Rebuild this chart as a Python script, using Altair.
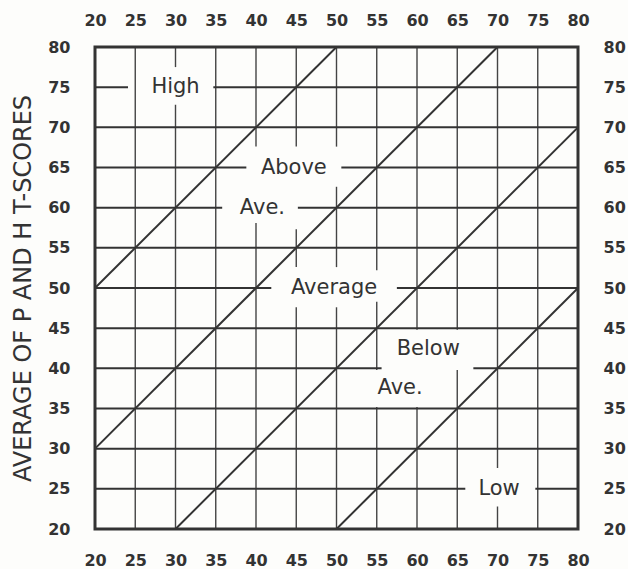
import altair as alt
import pandas as pd

tick_values = list(range(20, 85, 5))
y_title = "AVERAGE OF P AND H T-SCORES"

# region labels
label_text = ["High", "Above", "Ave.", "Average", "Below", "Ave.", "Low"]
label_x = [30.0, 44.7, 40.8, 49.7, 61.4, 57.9, 70.2]
label_y = [75.0, 65.0, 60.0, 50.0, 42.4, 37.6, 25.0]

# boundary diagonals
diag_x1 = [20, 20, 30, 50]
diag_y1 = [50, 30, 20, 20]
diag_x2 = [50, 70, 80, 80]
diag_y2 = [80, 80, 70, 50]

# gaps left in the grid lines around the labels
h_gaps = {
    75: [(24.1, 34.7)],
    65: [(38.8, 50.6)],
    60: [(35.8, 45.2)],
    50: [(41.9, 57.5)],
    40: [(55.6, 67.0)],
    25: [(66.0, 74.7)],
}
v_gaps = {
    30: [(72.8, 77.5)],
    40: [(58.1, 67.6)],
    45: [(47.6, 52.6), (57.3, 67.6)],
    50: [(47.6, 52.6), (62.6, 67.6)],
    55: [(35.2, 39.8), (48.3, 52.2)],
    60: [(35.2, 44.8)],
    65: [(39.8, 44.8)],
    70: [(22.8, 27.6)],
}

LO, HI = 20, 80
INK = "#333333"


def split(lo, hi, gaps):
    segs, s = [], lo
    for a, b in sorted(gaps):
        segs.append((s, a))
        s = b
    segs.append((s, hi))
    return segs


h_rows, v_rows = [], []
for v in tick_values[1:-1]:
    for a, b in split(LO, HI, h_gaps.get(v, [])):
        h_rows.append({"x": a, "x2": b, "y": v})
    for a, b in split(LO, HI, v_gaps.get(v, [])):
        v_rows.append({"x": v, "y": a, "y2": b})

h_df = pd.DataFrame(h_rows)
v_df = pd.DataFrame(v_rows)
diag_df = pd.DataFrame({"x": diag_x1, "y": diag_y1, "x2": diag_x2, "y2": diag_y2})
lab_df = pd.DataFrame({"t": label_text, "x": label_x, "y": label_y})
box_df = pd.DataFrame({"x": [LO], "x2": [HI], "y": [LO], "y2": [HI]})

xs = alt.Scale(domain=[LO, HI], nice=False, zero=False)
ys = alt.Scale(domain=[LO, HI], nice=False, zero=False)

axis_common = dict(
    values=tick_values,
    domain=False,
    ticks=False,
    tickSize=0,
    grid=False,
    labelFlush=False,
    labelOverlap=False,
    labelFont="DejaVu Sans",
    labelFontSize=16,
    labelFontWeight="bold",
    labelColor=INK,
)

bottom_axis = alt.Axis(orient="bottom", title=None, labelPadding=23, **axis_common)
top_axis = alt.Axis(orient="top", title=None, labelPadding=19, **axis_common)
left_axis = alt.Axis(
    orient="left",
    title=y_title,
    labelPadding=25,
    titleFont="DejaVu Sans",
    titleFontSize=24,
    titleFontWeight="normal",
    titleColor=INK,
    titlePadding=12,
    **axis_common,
)
right_axis = alt.Axis(orient="right", title=None, labelPadding=25, **axis_common)

vgrid = alt.Chart(v_df).mark_rule(color="#444444", strokeWidth=1.4).encode(
    x=alt.X("x:Q", scale=xs, axis=None),
    y=alt.Y("y:Q", scale=ys, axis=None),
    y2="y2:Q",
)
hgrid = alt.Chart(h_df).mark_rule(color=INK, strokeWidth=2).encode(
    x=alt.X("x:Q", scale=xs, axis=None),
    x2="x2:Q",
    y=alt.Y("y:Q", scale=ys, axis=None),
)
diag = alt.Chart(diag_df).mark_rule(color=INK, strokeWidth=2).encode(
    x=alt.X("x:Q", scale=xs, axis=top_axis),
    y=alt.Y("y:Q", scale=ys, axis=right_axis),
    x2="x2:Q",
    y2="y2:Q",
)
box = alt.Chart(box_df).mark_rect(fillOpacity=0, stroke=INK, strokeWidth=3).encode(
    x=alt.X("x:Q", scale=xs, axis=bottom_axis),
    x2="x2:Q",
    y=alt.Y("y:Q", scale=ys, axis=left_axis),
    y2="y2:Q",
)
labels = alt.Chart(lab_df).mark_text(
    font="DejaVu Sans", fontSize=21, color=INK, align="center", baseline="middle"
).encode(
    x=alt.X("x:Q", scale=xs, axis=None),
    y=alt.Y("y:Q", scale=ys, axis=None),
    text="t:N",
)

chart = (
    alt.layer(vgrid, hgrid, diag, box, labels)
    .resolve_axis(x="independent", y="independent")
    .properties(
        width=483,
        height=482,
        autosize=alt.AutoSizeParams(type="none"),
        padding={"left": 95, "top": 47, "right": 50, "bottom": 40},
        background="#fdfdfb",
    )
    .configure_view(stroke=None)
)

chart.save("out.html", embed_options={"renderer": "svg", "actions": False})
